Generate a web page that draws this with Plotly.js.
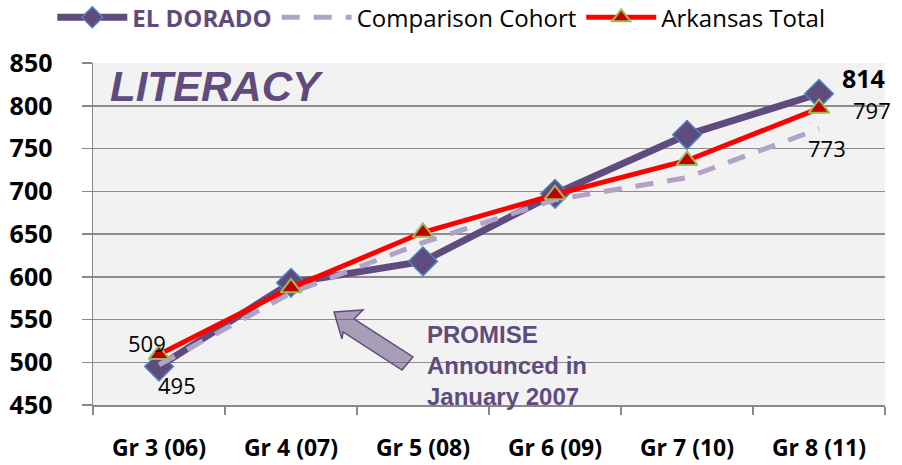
<!DOCTYPE html>
<html>
<head>
<meta charset="utf-8">
<script src="https://cdn.plot.ly/plotly-3.0.1.min.js"></script>
<style>html,body{margin:0;padding:0;background:#fff;}#chart{width:902px;height:465px;}</style>
</head>
<body>
<div id="chart"></div>
<script>
const categories = ['Gr 3 (06)', 'Gr 4 (07)', 'Gr 5 (08)', 'Gr 6 (09)', 'Gr 7 (10)', 'Gr 8 (11)'];
const elDorado = [495, 593, 618, 697, 766, 814];
const comparison = [497, 581, 640, 690, 716, 773];
const arkansas = [509, 587, 652, 696, 736, 797];
const yTicks = [450, 500, 550, 600, 650, 700, 750, 800, 850];

const purple = '#5f4b7e';
const font = '"Open Sans", Lato, sans-serif';

const traces = [
  {
    x: categories, y: elDorado, name: '<b><span style="color:' + purple + '">EL DORADO</span></b>',
    type: 'scatter', mode: 'lines+markers',
    line: {color: purple, width: 7},
    marker: {symbol: 'diamond', size: 22, color: purple, line: {color: '#4f81bd', width: 1.5}}
  },
  {
    x: categories, y: comparison, name: 'Comparison Cohort',
    type: 'scatter', mode: 'lines',
    line: {color: '#b3a2c7', width: 5, dash: '18px,14px'}
  },
  {
    x: categories, y: arkansas, name: 'Arkansas Total',
    type: 'scatter', mode: 'lines+markers',
    line: {color: '#ff0000', width: 5},
    marker: {symbol: 'triangle-up', size: 18, color: '#c00000', line: {color: '#9bbb59', width: 2}}
  }
];

const n = categories.length;
const labelAnn = (x, y, txt, xs, ys, bold) => ({
  x: x, y: y, xref: 'x', yref: 'y', text: bold ? '<b>' + txt + '</b>' : String(txt),
  showarrow: false, xshift: xs, yshift: ys,
  font: {family: font, size: bold ? 25 : 22, color: '#000'}
});

const annotations = [
  labelAnn(categories[0], arkansas[0], arkansas[0], -12, 12, false),
  labelAnn(categories[0], elDorado[0], elDorado[0], 18, -18, false),
  labelAnn(categories[n-1], elDorado[n-1], elDorado[n-1], 44, 16, true),
  labelAnn(categories[n-1], arkansas[n-1], arkansas[n-1], 53, -2, false),
  labelAnn(categories[n-1], comparison[n-1], comparison[n-1], 8, -19, false),
  {
    xref: 'paper', yref: 'paper', x: 0.019, y: 0.93, xanchor: 'left', yanchor: 'middle',
    text: '<b><i>LITERACY</i></b>', showarrow: false,
    font: {family: '"Liberation Sans", Arial, sans-serif', size: 42, color: purple}
  },
  {
    xref: 'paper', yref: 'paper', x: 0.419, y: 0.252, xanchor: 'left', yanchor: 'top', align: 'left',
    text: '<b>PROMISE<br>Announced in<br>January 2007</b>', showarrow: false,
    font: {family: '"Liberation Sans", Arial, sans-serif', size: 24, color: purple}
  }
];

const layout = {
  width: 902, height: 465,
  margin: {l: 93, r: 17, t: 63, b: 60, autoexpand: false},
  paper_bgcolor: '#ffffff', plot_bgcolor: '#f2f2f2',
  showlegend: true,
  legend: {
    orientation: 'h', x: 0.058, y: 0.962, xref: 'container', yref: 'container', xanchor: 'left', yanchor: 'middle',
    font: {family: font, size: 24, color: '#000'}, itemwidth: 70, tracegroupgap: 0,
    bgcolor: 'rgba(0,0,0,0)'
  },
  xaxis: {
    type: 'category', range: [-0.5, n - 0.5],
    showgrid: false, showline: true, linecolor: '#888', linewidth: 1.5,
    ticks: 'outside', tickson: 'boundaries', ticklen: 8, tickcolor: '#888', tickwidth: 1.5,
    ticklabelstandoff: 22,
    tickfont: {family: font, size: 23, color: '#000', weight: 'bold'}
  },
  yaxis: {
    range: [450, 850], tickvals: yTicks,
    showgrid: true, gridcolor: '#8c8c8c', gridwidth: 1.5, zeroline: false,
    showline: true, linecolor: '#888', linewidth: 1.5,
    ticks: 'outside', ticklen: 10, tickcolor: '#888', tickwidth: 1.5,
    ticklabelstandoff: 24,
    tickfont: {family: font, size: 25, color: '#000', weight: 'bold'}
  },
  annotations: annotations,
  shapes: [{
    type: 'path', xref: 'paper', yref: 'paper',
    path: 'M0.3043,0.2719 L0.3409,0.2778 L0.3295,0.2515 L0.4040,0.1404 L0.3902,0.1023 L0.3157,0.2135 L0.3144,0.1930 Z',
    fillcolor: 'rgba(96,73,126,0.5)', line: {color: purple, width: 1.5}
  }]
};

Plotly.newPlot('chart', traces, layout, {displayModeBar: false, staticPlot: true});
</script>
</body>
</html>
